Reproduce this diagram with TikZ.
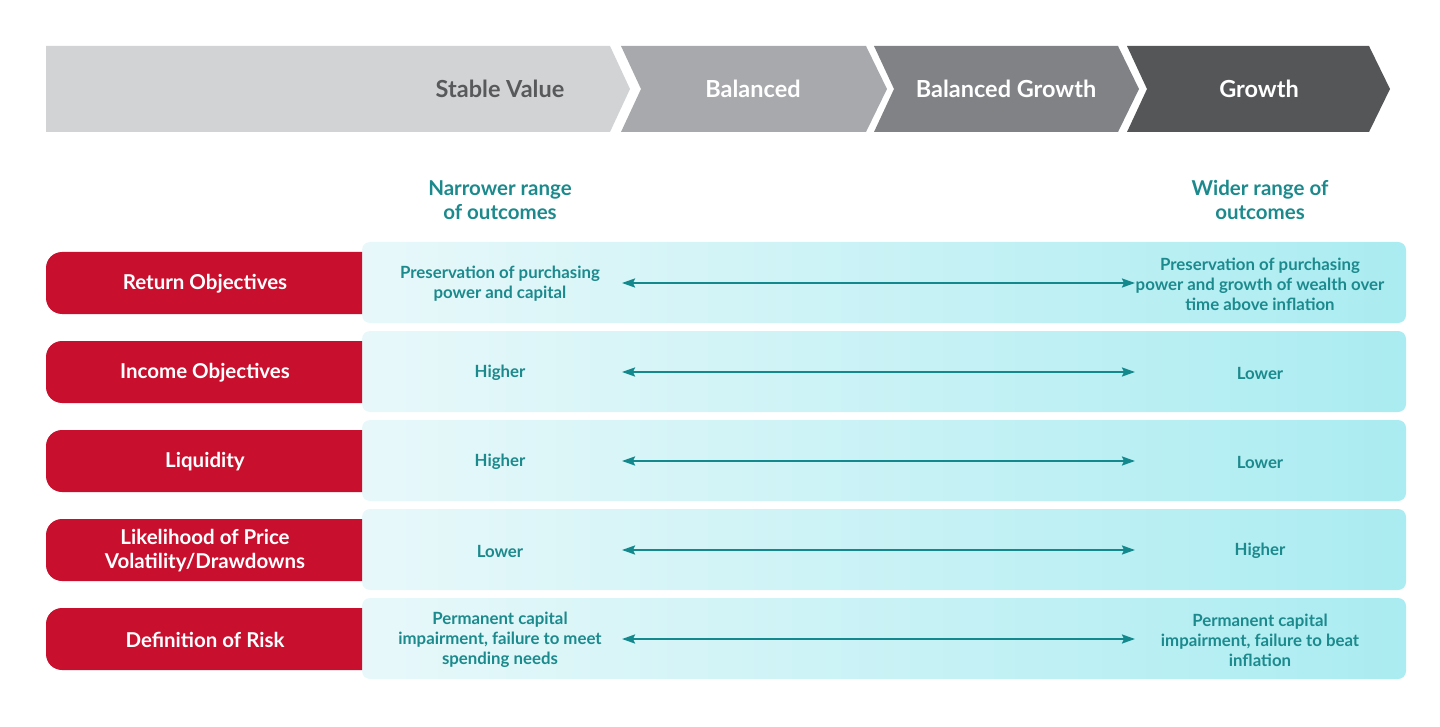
\documentclass[tikz,border=0pt]{standalone}
\usepackage{fontspec}
\setmainfont{Lato}
\usetikzlibrary{arrows.meta, positioning}
\definecolor{SVGray}{RGB}{209,211,212}
\definecolor{SVText}{RGB}{88,89,91}
\definecolor{BalGray}{RGB}{167,169,172}
\definecolor{BGGray}{RGB}{128,130,133}
\definecolor{GrGray}{RGB}{84,86,88}
\definecolor{RTeal}{RGB}{28,138,141}
\definecolor{RArrow}{RGB}{20,137,141}
\definecolor{RRed}{RGB}{200,16,46}
\definecolor{BlueL}{RGB}{232,248,250}
\definecolor{BlueR}{RGB}{170,236,241}

\begin{document}
\begin{tikzpicture}[x=1pt, y=-1pt,
    chev/.style={font=\fontsize{23.5}{28}\selectfont\bfseries, text=white},
    head/.style={font=\fontsize{20.5}{24}\selectfont\bfseries, text=RTeal, align=center},
    lab/.style={font=\fontsize{20.5}{24}\selectfont\bfseries, text=white, align=center},
    cell/.style={font=\fontsize{16.8}{20}\selectfont\bfseries, text=RTeal, align=center},
    arr/.style={{Stealth[length=13pt,width=9pt,inset=2pt]}-{Stealth[length=13pt,width=9pt,inset=2pt]},
                line width=2pt, draw=RArrow}
  ]
  \useasboundingbox (0,0) rectangle (1440,727);

  % Chevron band
  \fill[SVGray] (46,46) -- (610,46) -- (630,89) -- (610,132) -- (46,132) -- cycle;
  \foreach \l/\r/\c in {621/866/BalGray, 874/1118/BGGray, 1127/1369/GrGray} {
    \fill[\c] (\l,46) -- (\r,46) -- (\r+21,89) -- (\r,132) -- (\l,132) -- (\l+20,89) -- cycle;
  }
  \node[chev, text=SVText] (sv) at (500,89) {Stable Value};
  \node[chev] (bal) at (753,89) {Balanced};
  \node[chev] (bg) at (1006,89) {Balanced Growth};
  \node[chev] (gr) at (1259,89) {Growth};

  \node[head] (narrow) at (500,200) {Narrower range\\of outcomes};
  \node[head] (wide) at (1260,200) {Wider range of\\outcomes};

  % Rows
  \foreach \n/\y in {ret/283, inc/372, liq/461, vol/550, risk/639} {
    \shade[left color=BlueL, right color=BlueR, rounded corners=8pt]
      (362,\y-41) rectangle (1406,\y+40);
    \fill[RRed] (362,\y-31) [rounded corners=16pt] -- (46,\y-31) -- (46,\y+31)
      [sharp corners] -- (362,\y+31) -- cycle;
    \coordinate (\n-a) at (622,\y);
    \coordinate (\n-b) at (1135,\y);
    \draw[arr] (\n-a) -- (\n-b);
  }

  \node[lab] (lret) at (205,284) {Return Objectives};
  \node[lab] (linc) at (205,373) {Income Objectives};
  \node[lab] (lliq) at (205,462) {Liquidity};
  \node[lab] (lvol) at (205,551) {Likelihood of Price\\Volatility/Drawdowns};
  \node[lab] (lrisk) at (205,640) {Definition of Risk};

  \node[cell] (ret-l) at (500,284) {Preservation of purchasing\\power and capital};
  \node[cell] (ret-r) at (1260,284) {Preservation of purchasing\\power and growth of wealth over\\time above inflation};
  \node[cell] (inc-l) at (500,373) {Higher};
  \node[cell] (inc-r) at (1260,373) {Lower};
  \node[cell] (liq-l) at (500,462) {Higher};
  \node[cell] (liq-r) at (1260,462) {Lower};
  \node[cell] (vol-l) at (500,551) {Lower};
  \node[cell] (vol-r) at (1260,551) {Higher};
  \node[cell] (risk-l) at (500,640) {Permanent capital\\impairment, failure to meet\\spending needs};
  \node[cell] (risk-r) at (1260,640) {Permanent capital\\impairment, failure to beat\\inflation};
\end{tikzpicture}
\end{document}
